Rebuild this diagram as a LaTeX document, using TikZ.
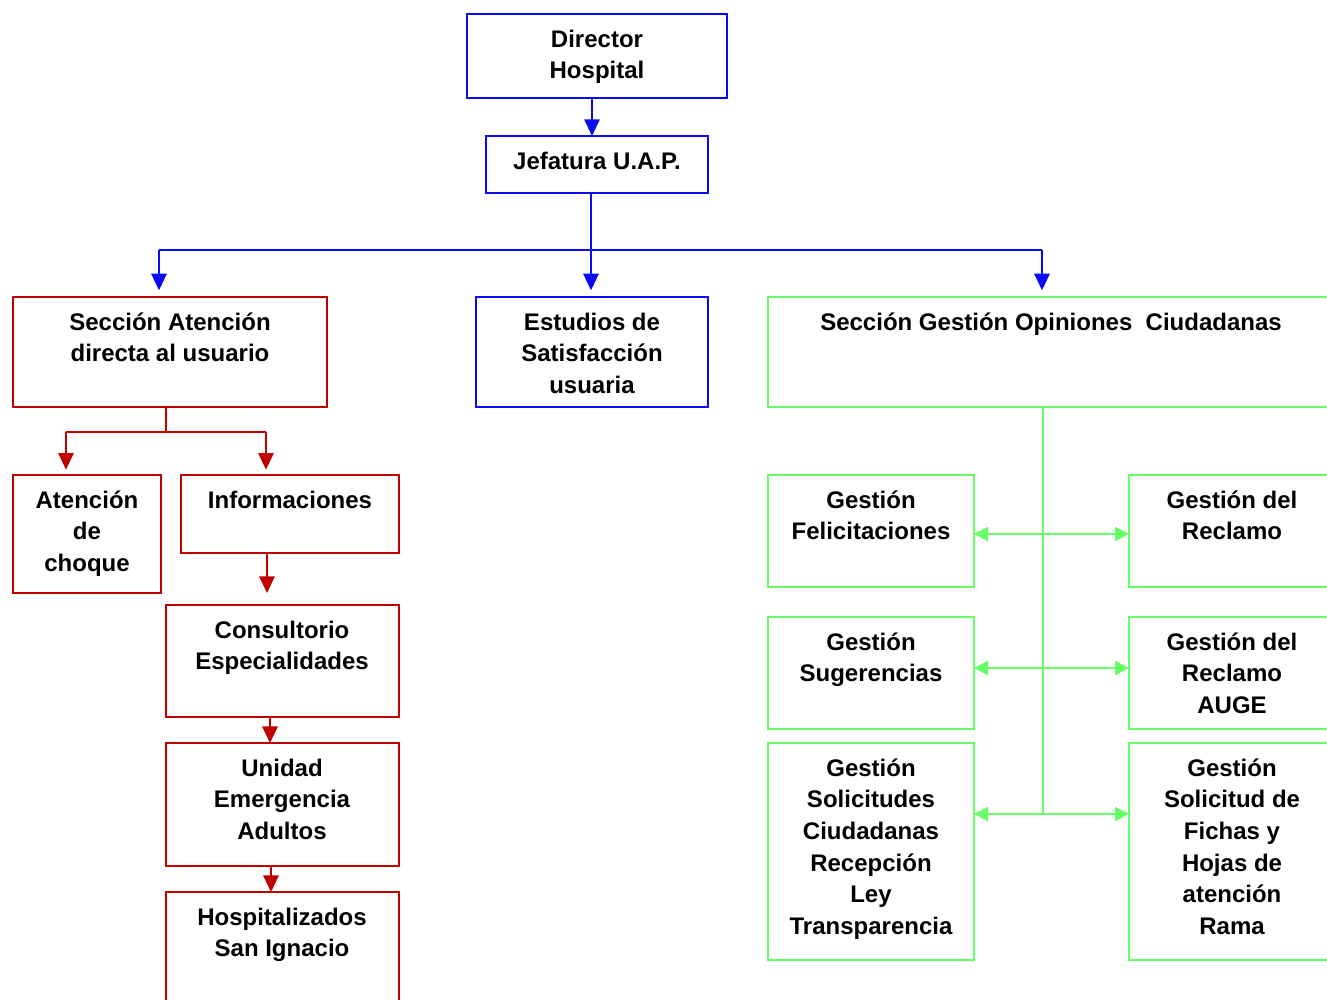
\documentclass[tikz,border=0pt]{standalone}
\usepackage{fontspec}
\setmainfont{Liberation Sans}
\usetikzlibrary{arrows.meta,calc}
\definecolor{orgblue}{RGB}{10,10,245}
\definecolor{orgred}{RGB}{192,0,0}
\definecolor{orggreen}{RGB}{102,255,102}

% box frame from (x1,y1) to (x2,y2) plus its top-aligned caption
% #1 name, #2 style, #3 x1, #4 y1, #5 x2, #6 y2, #7 caption x, #8 caption
\newcommand\orgbox[8]{%
  \node[#2, minimum width={(#5-#3)*0.75pt}, minimum height={(#6-#4)*0.75pt}]
    (#1) at ({(#3+#5)/2},{(#4+#6)/2}) {};
  \node[boxtext] (#1-t) at (#7,#4+11.0) {\strut #8};
}

\tikzset{
  frame/.style={draw, rectangle, line width=1.5pt, inner sep=0pt, outer sep=0pt},
  bluebox/.style={frame, draw=orgblue},
  redbox/.style={frame, draw=orgred},
  greenbox/.style={frame, draw=orggreen},
  boxtext/.style={anchor=north, align=center, inner sep=0pt,
    font=\bfseries\fontsize{18}{23.7}\selectfont},
  tip/.style={-{Triangle[length=12.5pt,width=11.5pt]}},
  blueline/.style={orgblue, line width=1.5pt},
  redline/.style={orgred, line width=1.5pt},
  greenline/.style={orggreen, line width=1.5pt},
  bluearr/.style={blueline, tip},
  redarr/.style={redline, tip},
  greenarr/.style={greenline, {Triangle[length=10.5pt,width=10.5pt]}-{Triangle[length=10.5pt,width=10.5pt]}},
}

\begin{document}
\begin{tikzpicture}[x=0.75pt,y=-0.75pt]
\useasboundingbox (0,0) rectangle (1327,999);
\clip (0,0) rectangle (1327,999);

% top of the hierarchy
\orgbox{dir}{bluebox}{467}{14}{727}{98}{597}{Director\\Hospital}
\orgbox{jef}{bluebox}{486}{136}{708}{193}{597}{Jefatura U.A.P.}

% sections
\orgbox{sat}{redbox}{13}{297}{327}{407}{170}{Sección Atención\\directa al usuario}
\orgbox{est}{bluebox}{476}{297}{708}{407}{592}{Estudios de\\Satisfacción\\usuaria}
\orgbox{sgo}{greenbox}{768}{297}{1335}{407}{1051}{Sección Gestión Opiniones\ \ Ciudadanas}

% direct attention units
\orgbox{cho}{redbox}{13}{475}{161}{593}{87}{Atención\\de\\choque}
\orgbox{inf}{redbox}{181}{475}{399}{553}{290}{Informaciones}
\orgbox{con}{redbox}{166}{605}{399}{717}{282}{Consultorio\\Especialidades}
\orgbox{uni}{redbox}{166}{743}{399}{866}{282}{Unidad\\Emergencia\\Adultos}
\orgbox{hos}{redbox}{166}{892}{399}{1010}{282}{Hospitalizados\\San Ignacio}

% citizen opinion management units
\orgbox{fel}{greenbox}{768}{475}{974}{587}{871}{Gestión\\Felicitaciones}
\orgbox{rec}{greenbox}{1129}{475}{1335}{587}{1232}{Gestión del\\Reclamo}
\orgbox{sug}{greenbox}{768}{617}{974}{729}{871}{Gestión\\Sugerencias}
\orgbox{aug}{greenbox}{1129}{617}{1335}{729}{1232}{Gestión del\\Reclamo\\AUGE}
\orgbox{sol}{greenbox}{768}{743}{974}{960}{871}{Gestión\\Solicitudes\\Ciudadanas\\Recepción\\Ley\\Transparencia}
\orgbox{fic}{greenbox}{1129}{743}{1335}{960}{1232}{Gestión\\Solicitud de\\Fichas y\\Hojas de\\atención\\Rama}

% blue connectors
\coordinate (bL) at (159,250);
\coordinate (bM) at (591,250);
\coordinate (bR) at (1042,250);
\draw[bluearr] ($(dir.south)+(-5,0)$) -- ($(jef.north)+(-5,0)$);
\draw[blueline] (jef.south -| bM) -- (bM);
\draw[blueline] (bL) -- (bR);
\draw[bluearr] (bL) -- ([yshift=5pt]bL |- sat.north);
\draw[bluearr] (bM) -- ([yshift=5pt]bM |- est.north);
\draw[bluearr] (bR) -- ([yshift=5pt]bR |- sgo.north);

% red connectors
\coordinate (rM) at (166,432);
\coordinate (rL) at (66,432);
\coordinate (rR) at (266,432);
\draw[redline] (sat.south -| rM) -- (rM);
\draw[redline] (rL) -- (rR);
\draw[redarr] (rL) -- ([yshift=4pt]rL |- cho.north);
\draw[redarr] (rR) -- ([yshift=4pt]rR |- inf.north);
\draw[redarr] (inf.south -| 267,0) -- ([yshift=9pt]con.north -| 267,0);
\draw[redarr] (con.south -| 270,0) -- (uni.north -| 270,0);
\draw[redarr] (uni.south -| 271,0) -- (hos.north -| 271,0);

% green connectors
\coordinate (gB) at (1043,814);
\draw[greenline] (sgo.south -| gB) -- (gB);
\draw[greenarr] (fel.east |- 0,534) -- (rec.west |- 0,534);
\draw[greenarr] (sug.east |- 0,668) -- (aug.west |- 0,668);
\draw[greenarr] (sol.east |- gB) -- (fic.west |- gB);
\end{tikzpicture}
\end{document}
